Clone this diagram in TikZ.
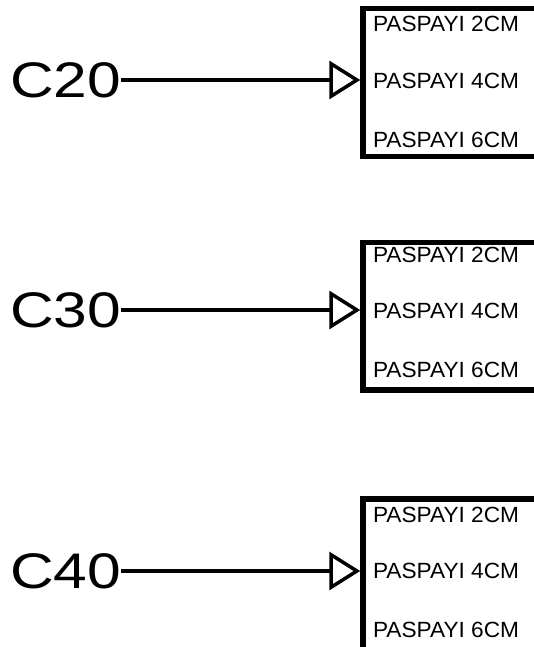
\documentclass[tikz,border=0pt]{standalone}
\usepackage{fontspec}
\setmainfont{Liberation Sans}
\usetikzlibrary{arrows.meta}

\tikzset{
  mixlabel/.style={anchor=west, inner sep=0pt, outer sep=0pt, font=\fontsize{50}{50}\selectfont},
  tierbox/.style={draw, line width=5.5pt, inner sep=0pt, minimum width=185pt},
  rowlabel/.style={anchor=west, inner sep=0pt, outer sep=0pt, font=\fontsize{22}{22}\selectfont},
  feed/.style={line width=3.5pt, -{Triangle[open, length=31pt, width=38pt]}}
}

\newcommand{\wide}[1]{\scalebox{1.21}[1]{#1}}
\newcommand{\rowtext}[1]{\scalebox{1.03}[1]{#1}}

\begin{document}
\begin{tikzpicture}[x=1pt, y=-1pt]
  \useasboundingbox (0,0) rectangle (534,647);

  % boxes
  \node[tierbox, minimum height=148pt]   (b1) at (455.5,82.5) {};
  \node[tierbox, minimum height=147.5pt] (b2) at (455.5,316.25) {};
  \node[tierbox, minimum height=155pt]   (b3) at (455.5,576.5) {};

  % box rows
  \node[rowlabel] (r11) at (373,24)  {\rowtext{PASPAYI 2CM}};
  \node[rowlabel] (r12) at (373,81)  {\rowtext{PASPAYI 4CM}};
  \node[rowlabel] (r13) at (373,140) {\rowtext{PASPAYI 6CM}};

  \node[rowlabel] (r21) at (373,255) {\rowtext{PASPAYI 2CM}};
  \node[rowlabel] (r22) at (373,311) {\rowtext{PASPAYI 4CM}};
  \node[rowlabel] (r23) at (373,370) {\rowtext{PASPAYI 6CM}};

  \node[rowlabel] (r31) at (373,515) {\rowtext{PASPAYI 2CM}};
  \node[rowlabel] (r32) at (373,571) {\rowtext{PASPAYI 4CM}};
  \node[rowlabel] (r33) at (373,630) {\rowtext{PASPAYI 6CM}};

  % concrete classes
  \node[mixlabel] (c1) at (10,80)  {\wide{C20}};
  \node[mixlabel] (c2) at (10,310) {\wide{C30}};
  \node[mixlabel] (c3) at (10,571) {\wide{C40}};

  % connectors
  \draw[feed] (c1.east) -- (c1.east -| b1.west);
  \draw[feed] (c2.east) -- (c2.east -| b2.west);
  \draw[feed] (c3.east) -- (c3.east -| b3.west);
\end{tikzpicture}
\end{document}
